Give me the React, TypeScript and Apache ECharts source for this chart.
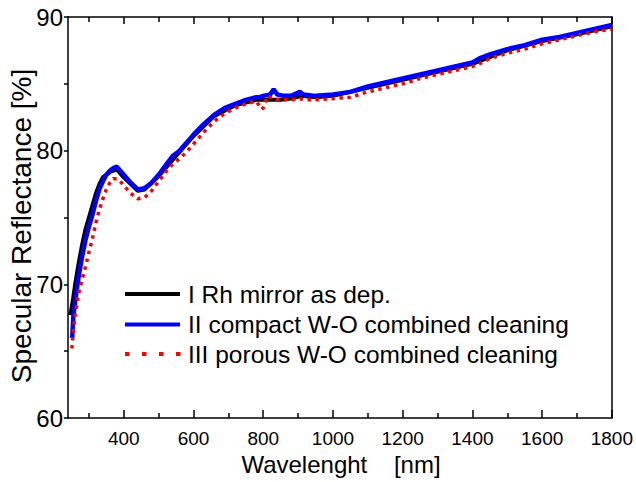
import React, { useEffect, useRef } from "react";
import * as echarts from "echarts";

// ---- data ----
const wlBlack = [247, 255, 260, 270, 280, 290, 300, 310, 320, 330, 340, 350, 360, 370, 380, 400, 440, 460, 500, 560, 600, 660, 720, 780, 820, 850, 880, 910, 950, 1000, 1100, 1200, 1300, 1400, 1500, 1600, 1700, 1800];
const reflBlack = [67.7, 69.0, 69.9, 71.5, 72.9, 74.1, 75.0, 75.9, 76.8, 77.5, 78.0, 78.2, 78.4, 78.5, 78.6, 78.0, 77.0, 77.1, 78.1, 79.9, 81.1, 82.6, 83.4, 83.8, 83.8, 83.8, 83.9, 84.1, 84.0, 84.1, 84.7, 85.3, 85.9, 86.5, 87.5, 88.2, 88.7, 89.3];

const wlBlue = [252, 255, 260, 270, 280, 290, 300, 310, 320, 330, 340, 350, 360, 370, 380, 390, 400, 420, 440, 460, 480, 500, 520, 540, 560, 580, 600, 630, 660, 690, 720, 750, 780, 790, 800, 820, 830, 840, 860, 880, 905, 915, 950, 1000, 1050, 1100, 1150, 1200, 1250, 1300, 1350, 1400, 1420, 1450, 1500, 1550, 1600, 1650, 1700, 1750, 1800];
const reflBlue = [66.0, 67.5, 68.6, 70.5, 72.0, 73.3, 74.3, 75.2, 76.2, 77.1, 77.7, 78.2, 78.5, 78.7, 78.8, 78.5, 78.2, 77.6, 77.1, 77.2, 77.6, 78.2, 78.9, 79.6, 80.0, 80.6, 81.2, 82.0, 82.7, 83.2, 83.5, 83.8, 84.0, 84.0, 84.1, 84.2, 84.6, 84.2, 84.1, 84.1, 84.4, 84.2, 84.1, 84.2, 84.4, 84.8, 85.1, 85.4, 85.7, 86.0, 86.3, 86.6, 86.9, 87.2, 87.6, 87.9, 88.3, 88.5, 88.8, 89.1, 89.4];

const wlRed = [251, 255, 260, 270, 280, 290, 300, 310, 320, 330, 340, 350, 360, 370, 380, 390, 400, 420, 440, 460, 480, 500, 520, 540, 560, 580, 600, 630, 660, 690, 720, 750, 780, 795, 800, 812, 830, 840, 860, 880, 905, 915, 950, 1000, 1050, 1100, 1150, 1200, 1250, 1300, 1350, 1400, 1420, 1450, 1500, 1550, 1600, 1650, 1700, 1750, 1800];
const reflRed = [65.2, 66.4, 67.6, 69.3, 70.3, 71.3, 72.4, 73.4, 74.6, 75.6, 76.4, 77.1, 77.6, 77.9, 77.9, 77.7, 77.4, 76.8, 76.4, 76.5, 77.0, 77.7, 78.4, 79.0, 79.4, 79.9, 80.5, 81.4, 82.2, 82.8, 83.2, 83.5, 83.7, 83.1, 83.2, 84.1, 83.9, 83.8, 83.8, 83.8, 83.9, 83.8, 83.8, 83.9, 84.0, 84.4, 84.7, 85.0, 85.4, 85.7, 86.0, 86.3, 86.5, 86.9, 87.3, 87.6, 88.0, 88.3, 88.6, 88.9, 89.1];

const seriesNames = ["I Rh mirror as dep.", "II compact W-O combined cleaning", "III porous W-O combined cleaning"];
const xMajorTicks = [400, 600, 800, 1000, 1200, 1400, 1600, 1800];
const xMinorTicks = [300, 500, 700, 900, 1100, 1300, 1500, 1700];
const xTitle = "Wavelenght    [nm]";
const yTitle = "Specular Reflectance [%]";

const FONT = '"Liberation Sans", Arial, sans-serif';

const pairs = (xs: number[], ys: number[]) => xs.map((x, i) => [x, ys[i]]);

export default function App() {
  const ref = useRef<HTMLDivElement>(null);
  useEffect(() => {
    if (!ref.current) return;
    const chart = echarts.init(ref.current, null, { renderer: "svg" });
    const axisLine = { show: true, lineStyle: { color: "#000", width: 1.5 } };
    const tickStyle = { color: "#000", width: 1.5 };
    const baseX = { type: "value", min: 240, max: 1800, splitLine: { show: false }, gridIndex: 0 };
    chart.setOption({
      animation: false,
      backgroundColor: "#fff",
      grid: { left: 68, right: 24, top: 17, bottom: 64, containLabel: false },
      xAxis: [
        {
          ...baseX,
          position: "bottom",
          axisLine,
          axisTick: { show: true, inside: true, length: 8, customValues: xMajorTicks, lineStyle: tickStyle },
          axisLabel: {
            show: true,
            customValues: xMajorTicks,
            fontSize: 19,
            fontFamily: FONT,
            color: "#000",
            margin: 11,
            formatter: (v: number) => String(v),
          },
        },
        {
          ...baseX,
          position: "bottom",
          axisLine: { show: false },
          axisTick: { show: true, inside: true, length: 5, customValues: xMinorTicks, lineStyle: tickStyle },
          axisLabel: { show: false },
        },
        {
          ...baseX,
          position: "top",
          axisLine,
          axisTick: { show: true, inside: true, length: 7, customValues: xMajorTicks, lineStyle: tickStyle },
          axisLabel: { show: false },
        },
        {
          ...baseX,
          position: "top",
          axisLine: { show: false },
          axisTick: { show: true, inside: true, length: 5, customValues: xMinorTicks, lineStyle: tickStyle },
          axisLabel: { show: false },
        },
      ],
      yAxis: [
        {
          type: "value",
          min: 60,
          max: 90,
          interval: 10,
          position: "left",
          axisLine,
          splitLine: { show: false },
          axisTick: { show: true, inside: false, length: 4, lineStyle: tickStyle },
          minorTick: { show: true, splitNumber: 2, length: 4, lineStyle: tickStyle },
          axisLabel: { fontSize: 24, fontFamily: FONT, color: "#000", margin: 5 },
        },
        {
          type: "value",
          min: 60,
          max: 90,
          interval: 10,
          position: "right",
          axisLine,
          splitLine: { show: false },
          axisTick: { show: false },
          axisLabel: { show: false },
        },
      ],
      series: [
        {
          name: seriesNames[0],
          type: "line",
          xAxisIndex: 0,
          yAxisIndex: 0,
          data: pairs(wlBlack, reflBlack),
          showSymbol: false,
          lineStyle: { color: "#000000", width: 4 },
          z: 2,
        },
        {
          name: seriesNames[1],
          type: "line",
          xAxisIndex: 0,
          yAxisIndex: 0,
          data: pairs(wlBlue, reflBlue),
          showSymbol: false,
          lineStyle: { color: "#0000ff", width: 4.5 },
          z: 3,
        },
        {
          name: seriesNames[2],
          type: "line",
          xAxisIndex: 0,
          yAxisIndex: 0,
          data: pairs(wlRed, reflRed),
          showSymbol: false,
          lineStyle: { color: "#ff0000", width: 3.5, type: [3.5, 4.5], cap: "butt" },
          z: 4,
        },
      ],
      graphic: [
        {
          type: "text",
          x: 21,
          y: 226,
          rotation: Math.PI / 2,
          style: { text: yTitle, font: `28px ${FONT}`, fill: "#000", textAlign: "center", textVerticalAlign: "middle", align: "center", verticalAlign: "middle" },
        },
        {
          type: "text",
          x: 341,
          y: 464,
          style: { text: xTitle, font: `24px ${FONT}`, fill: "#000", textAlign: "center", textVerticalAlign: "middle", align: "center", verticalAlign: "middle" },
        },
        { type: "line", shape: { x1: 125, y1: 294, x2: 180, y2: 294 }, style: { stroke: "#000000", lineWidth: 4 } },
        { type: "line", shape: { x1: 125, y1: 324.5, x2: 180, y2: 324.5 }, style: { stroke: "#0000ff", lineWidth: 4 } },
        { type: "line", shape: { x1: 125, y1: 354, x2: 181, y2: 354 }, style: { stroke: "#ff0000", lineWidth: 4, lineDash: [4.5, 12.5] } },
        ...seriesNames.map((t, i) => ({
          type: "text",
          x: 188,
          y: [294, 324.5, 354][i],
          style: { text: t, font: `24.5px ${FONT}`, fill: "#000", textAlign: "left", textVerticalAlign: "middle", align: "left", verticalAlign: "middle" },
        })),
      ],
    });
    return () => chart.dispose();
  }, []);
  return <div ref={ref} style={{ position: "fixed", left: 0, top: 0, width: 636, height: 482 }} />;
}
